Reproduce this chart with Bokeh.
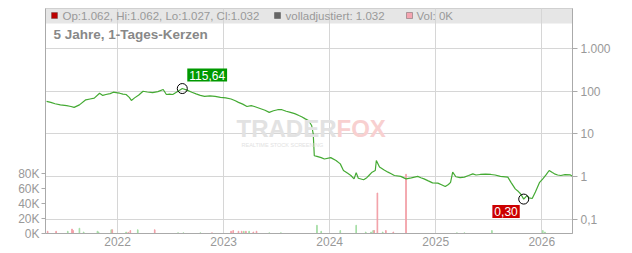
import math
from bokeh.plotting import figure
from bokeh.models import (Range1d, LinearAxis, LinearScale, FixedTicker, BoxAnnotation, Label,
                          ColumnDataSource)
from bokeh.embed import file_html
from bokeh.resources import INLINE

FONT = "Liberation Sans"

# ---- price series (decimal year, close) ----
dates = [2021.33, 2021.37, 2021.41, 2021.46, 2021.52, 2021.56, 2021.59, 2021.64, 2021.70, 2021.74,
         2021.78, 2021.83, 2021.86, 2021.89, 2021.93, 2021.96, 2022.00, 2022.02, 2022.05, 2022.08,
         2022.11, 2022.13, 2022.16, 2022.20, 2022.24, 2022.28, 2022.33, 2022.38, 2022.43, 2022.46,
         2022.49, 2022.52, 2022.57, 2022.61, 2022.66, 2022.70, 2022.74, 2022.78, 2022.82, 2022.87,
         2022.92, 2022.97, 2023.02, 2023.07, 2023.11, 2023.14, 2023.18, 2023.22, 2023.26, 2023.29,
         2023.35, 2023.39, 2023.43, 2023.47, 2023.51, 2023.55, 2023.59, 2023.63, 2023.67, 2023.71,
         2023.74, 2023.77, 2023.80, 2023.83, 2023.845, 2023.855, 2023.88, 2023.92, 2023.95, 2024.01,
         2024.06, 2024.10, 2024.13, 2024.17, 2024.20, 2024.23, 2024.25, 2024.27, 2024.32, 2024.35,
         2024.37, 2024.40, 2024.43, 2024.44, 2024.47, 2024.51, 2024.55, 2024.58, 2024.61, 2024.67,
         2024.72, 2024.77, 2024.83, 2024.86, 2024.89, 2024.93, 2024.97, 2025.02, 2025.06, 2025.09,
         2025.12, 2025.14, 2025.16, 2025.19, 2025.23, 2025.27, 2025.31, 2025.35, 2025.38, 2025.42,
         2025.47, 2025.52, 2025.56, 2025.61, 2025.68, 2025.71, 2025.75, 2025.78, 2025.80, 2025.83,
         2025.86, 2025.88, 2025.91, 2025.94, 2025.98, 2026.01, 2026.04, 2026.07, 2026.10, 2026.12,
         2026.15, 2026.18, 2026.22, 2026.27, 2026.29]
prices = [58, 55, 51, 48, 46, 44, 42, 48, 63, 66,
          69, 90, 80, 84, 88, 95, 92, 90, 86, 84,
          72, 61, 70, 82, 100, 96, 93, 98, 110, 84,
          86, 84, 100, 115.64, 105, 95, 87, 80, 76, 78,
          76, 72, 70, 66, 60, 55, 50, 44, 46, 44,
          39, 36, 32, 35, 37, 37, 34, 32, 30, 27,
          25, 22.6, 20.7, 15.8, 10, 3.1, 3.0, 2.8, 2.6, 2.8,
          2.4, 2.0, 1.4, 1.2, 1.07, 0.89, 1.25, 0.92, 0.85, 0.95,
          1.07, 1.28, 1.4, 2.4, 1.68, 1.45, 1.28, 1.18, 1.07, 1.02,
          0.89, 0.94, 1.02, 0.95, 0.89, 0.80, 0.72, 0.71, 0.64, 0.59,
          0.66, 0.74, 1.28, 1.0, 0.95, 0.98, 1.07, 1.17, 1.10, 1.13,
          1.15, 1.13, 1.10, 1.02, 0.98, 0.74, 0.52, 0.45, 0.40, 0.30,
          0.36, 0.32, 0.31, 0.44, 0.74, 0.89, 1.1, 1.4, 1.25, 1.17,
          1.10, 1.07, 1.12, 1.10, 1.03]

# ---- volume bars ----
vol_dates = [2021.34, 2021.42, 2021.53, 2021.57, 2021.58, 2021.64, 2021.68, 2021.81, 2021.82, 2021.94,
             2021.95, 2022.08, 2022.10, 2022.12, 2022.19, 2022.35, 2022.57, 2022.62, 2022.78, 2022.89,
             2023.07, 2023.09, 2023.14, 2023.17, 2023.19, 2023.21, 2023.24, 2023.28, 2023.31, 2023.43,
             2023.54, 2023.88, 2023.92, 2024.10, 2024.25, 2024.34, 2024.39, 2024.41, 2024.42, 2024.45,
             2024.50, 2024.53, 2024.60, 2024.72, 2025.20, 2025.27, 2025.53, 2026.01, 2026.03]
vol_values = [3000, 3000, 3000, 6000, 4000, 7000, 2000, 3000, 2000, 5000,
              5000, 2000, 1500, 4000, 5000, 5000, 1000, 1000, 1000, 1000,
              3000, 4000, 3000, 3000, 3000, 3000, 3000, 2000, 3000, 1000,
              1000, 11000, 3000, 4000, 11000, 2000, 2000, 4000, 4000, 54000,
              2000, 4000, 2000, 79000, 1000, 1000, 4000, 4000, 2000]
vol_up = [0, 0, 1, 0, 0, 1, 1, 1, 1, 1,
          0, 1, 0, 0, 1, 0, 1, 1, 1, 0,
          0, 0, 0, 0, 1, 0, 1, 0, 0, 1,
          1, 1, 1, 1, 1, 1, 1, 1, 0, 0,
          1, 0, 0, 0, 1, 1, 1, 1, 1]

price_ticks = [0.1, 1, 10, 100, 1000]
price_tick_labels = ["0,1", "1", "10", "100", "1.000"]
vol_ticks = [0, 20000, 40000, 60000, 80000]
vol_tick_labels = ["0K", "20K", "40K", "60K", "80K"]
year_ticks = [2022, 2023, 2024, 2025, 2026]

high_date, high_val, high_label = 2022.61, 115.64, "115,64"
low_date, low_val, low_label = 2025.83, 0.30, "0,30"

header_text = "Op:1.062, Hi:1.062, Lo:1.027, Cl:1.032"
adj_text = "volladjustiert: 1.032"
vol_text = "Vol: 0K"
title_text = "5 Jahre, 1-Tages-Kerzen"

Y_LO, Y_HI = 0.047, 8630
X_LO, X_HI = 2021.32, 2026.29

p = figure(width=632, height=253, output_backend="svg", toolbar_location=None,
           y_axis_type="log", y_axis_location="right",
           x_range=Range1d(X_LO, X_HI), y_range=Range1d(Y_LO, Y_HI),
           min_border_left=45, min_border_right=60, min_border_top=8, min_border_bottom=20)
p.background_fill_color = "white"
p.border_fill_color = "white"
p.outline_line_color = "#c8c8c8"

# volume range on left (linear)
p.extra_y_ranges = {"vol": Range1d(0, 300000)}
p.extra_y_scales = {"vol": LinearScale()}

# header band
ltop, lbot = math.log10(Y_HI), math.log10(Y_LO)
band_bottom = 10 ** (ltop - 15 * (ltop - lbot) / 225)
p.add_layout(BoxAnnotation(bottom=band_bottom, fill_color="#e6e6e6", fill_alpha=1.0,
                           line_color=None, level="image"))

# grids
p.xgrid.ticker = FixedTicker(ticks=year_ticks)
p.ygrid.ticker = FixedTicker(ticks=price_ticks)
p.xgrid.grid_line_color = "#d6d6d6"
p.ygrid.grid_line_color = "#d6d6d6"

# axes styling
for ax in [p.xaxis[0], p.yaxis[0]]:
    ax.axis_line_color = "#aaaaaa"
    ax.major_tick_line_color = "#aaaaaa"
    ax.minor_tick_line_color = None
    ax.major_label_text_color = "#999999"
    ax.major_label_text_font = FONT
    ax.major_label_text_font_size = "12px"

p.xaxis.ticker = FixedTicker(ticks=year_ticks)
p.xaxis.major_tick_out = 0
p.xaxis.major_tick_in = 0
p.xaxis.major_label_standoff = 3

p.yaxis.ticker = FixedTicker(ticks=price_ticks)
p.yaxis.major_label_overrides = {t: l for t, l in zip(price_ticks, price_tick_labels)}
p.yaxis.major_tick_out = 5
p.yaxis.major_tick_in = 0
p.yaxis.major_label_standoff = 3

vax = LinearAxis(y_range_name="vol", ticker=FixedTicker(ticks=vol_ticks))
vax.major_label_overrides = {t: l for t, l in zip(vol_ticks, vol_tick_labels)}
vax.axis_line_color = "#aaaaaa"
vax.major_tick_line_color = "#aaaaaa"
vax.major_tick_out = 4
vax.major_tick_in = 0
vax.minor_tick_line_color = None
vax.major_label_text_color = "#999999"
vax.major_label_text_font = FONT
vax.major_label_text_font_size = "12px"
vax.major_label_standoff = 2
p.add_layout(vax, "left")

# watermark
p.add_layout(Label(x=191, y=105, x_units="screen", y_units="screen", text="TRADER",
                   text_font=FONT, text_font_style="bold", text_font_size="24px",
                   text_color="#e2e2e2", text_align="left", text_baseline="middle"))
p.add_layout(Label(x=291, y=105, x_units="screen", y_units="screen", text="FOX",
                   text_font=FONT, text_font_style="bold", text_font_size="24px",
                   text_color="#f8d0d0", text_align="left", text_baseline="middle"))
p.add_layout(Label(x=196, y=89, x_units="screen", y_units="screen", text="REALTIME STOCK SCREENING",
                   text_font=FONT, text_font_size="5.5px",
                   text_color="#e2e2e2", text_align="left", text_baseline="middle"))

# volume bars
vsrc = ColumnDataSource(dict(x=vol_dates, top=vol_values,
                             color=["#a6dea6" if u else "#f2a0a8" for u in vol_up]))
p.vbar(x="x", top="top", bottom=0, width=0.006, color="color", source=vsrc, y_range_name="vol")

# price line
p.line(dates, prices, line_color="#44aa33", line_width=1.2)

# high / low markers
p.scatter([high_date, low_date], [high_val, low_val], size=10, fill_color=None,
          line_color="black", line_width=1)
p.add_layout(Label(x=high_date, y=high_val, text=high_label, x_offset=5, y_offset=7,
                   text_font=FONT, text_font_size="12px", text_color="white",
                   background_fill_color="#009900", padding=2,
                   text_align="left", text_baseline="bottom"))
p.add_layout(Label(x=low_date, y=low_val, text=low_label, x_offset=-4, y_offset=-6,
                   text_font=FONT, text_font_size="12px", text_color="white",
                   background_fill_color="#cc0000", padding=2,
                   text_align="right", text_baseline="top"))

# header legend
def sq(x, color, border):
    p.add_layout(BoxAnnotation(left=x, right=x + 6, bottom=215, top=221,
                               left_units="screen", right_units="screen",
                               bottom_units="screen", top_units="screen",
                               fill_color=color, fill_alpha=1, line_color=border, line_width=1))

sq(6, "#bb0000", "#333333")
sq(229, "#666666", "#222222")
sq(361, "#f4a4b0", "#222222")
for x, t in [(17, header_text), (240, adj_text), (371, vol_text)]:
    p.add_layout(Label(x=x, y=218, x_units="screen", y_units="screen", text=t,
                       text_font=FONT, text_font_size="11.5px", text_color="#999999",
                       text_align="left", text_baseline="middle"))
p.add_layout(Label(x=8, y=199, x_units="screen", y_units="screen", text=title_text,
                   text_font=FONT, text_font_size="13.5px", text_font_style="bold",
                   text_color="#888888", text_align="left", text_baseline="middle"))

open("out.html", "w").write(file_html(p, INLINE))
